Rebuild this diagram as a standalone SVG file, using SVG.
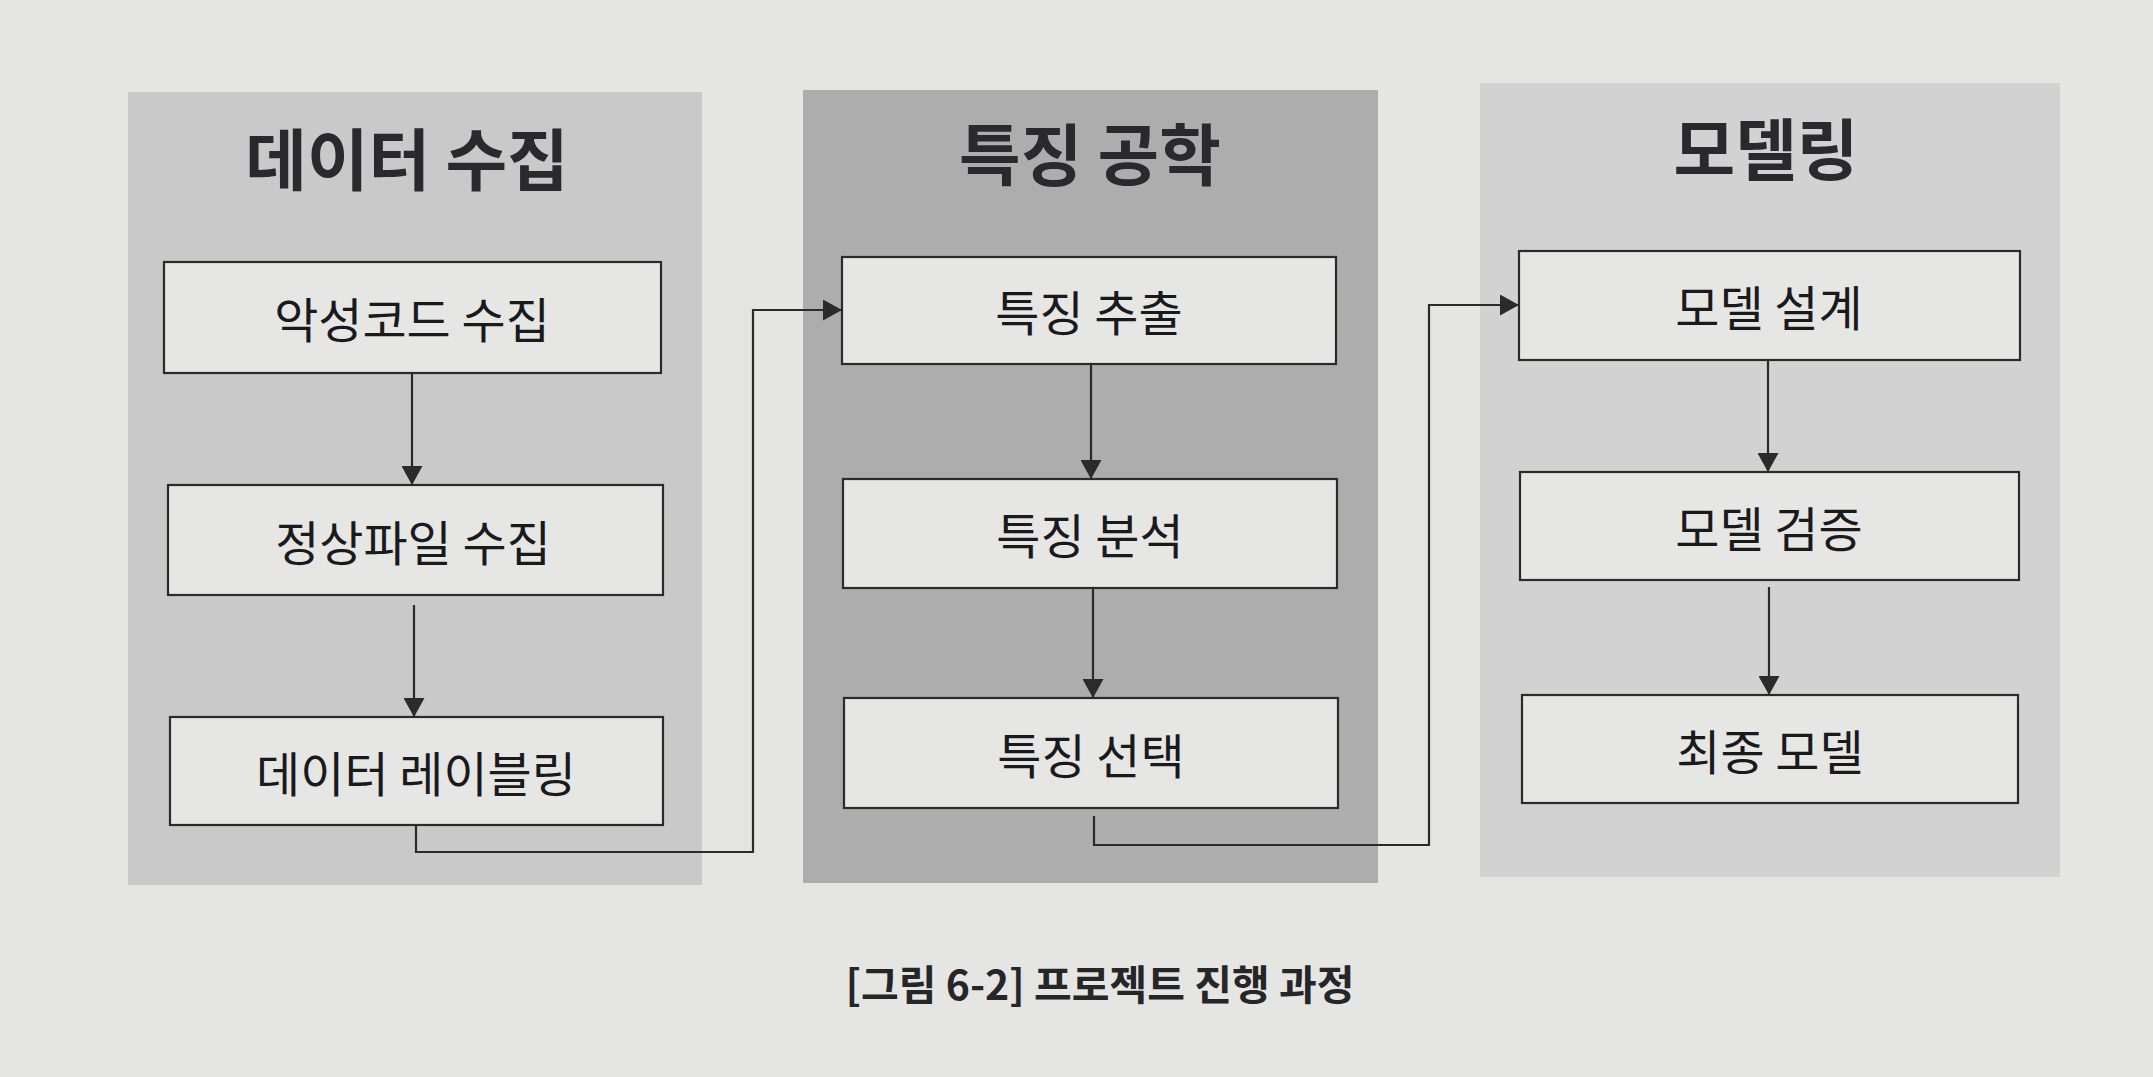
<svg xmlns="http://www.w3.org/2000/svg" width="2153" height="1077" viewBox="0 0 2153 1077">
<defs>
<style>
.page{fill:#e5e5e3}
.panel{stroke:none}
.box{fill:#e6e6e5;stroke:#2b2b2b;stroke-width:2.2}
.title{font-family:"Noto Sans CJK KR","Noto Sans",sans-serif;font-weight:700;font-size:67px;fill:#2a2a2c;text-anchor:middle;dominant-baseline:central}
.label{font-family:"Noto Sans CJK KR","Noto Sans",sans-serif;font-weight:400;font-size:48px;fill:#1a1a1c;text-anchor:middle;dominant-baseline:central}
.caption{font-family:"Noto Sans CJK KR","Noto Sans",sans-serif;font-weight:700;font-size:41px;fill:#262628;text-anchor:middle;dominant-baseline:central}
.conn{fill:none;stroke:#2b2b2b;stroke-width:2.2}
</style>
<marker id="arr" viewBox="0 0 19 21" refX="19" refY="10.5" markerWidth="19" markerHeight="21" markerUnits="userSpaceOnUse" orient="auto">
<path d="M0,0 L19,10.5 L0,21 Z" fill="#2b2b2b"/>
</marker>
</defs>
<rect class="page" x="0" y="0" width="2153" height="1077"/>

<g id="panel-data">
<rect class="panel" x="128" y="92" width="574" height="793" fill="#c9c9c9"/>
<text class="title" x="407" y="155">데이터 수집</text>
</g>
<g id="panel-feature">
<rect class="panel" x="803" y="90" width="575" height="793" fill="#adadad"/>
<text class="title" x="1090" y="150">특징 공학</text>
</g>
<g id="panel-model">
<rect class="panel" x="1480" y="83" width="580" height="794" fill="#d2d2d2"/>
<text class="title" x="1766" y="145">모델링</text>
</g>

<g id="connectors">
<line class="conn" x1="412" y1="373" x2="412" y2="485" marker-end="url(#arr)"/>
<line class="conn" x1="414" y1="605" x2="414" y2="717" marker-end="url(#arr)"/>
<path class="conn" d="M416 825 V852 H753 V310 H842" marker-end="url(#arr)"/>
<line class="conn" x1="1091" y1="364" x2="1091" y2="479" marker-end="url(#arr)"/>
<line class="conn" x1="1093" y1="588" x2="1093" y2="698" marker-end="url(#arr)"/>
<path class="conn" d="M1094 816 V845 H1429 V305 H1519" marker-end="url(#arr)"/>
<line class="conn" x1="1768" y1="360" x2="1768" y2="472" marker-end="url(#arr)"/>
<line class="conn" x1="1769" y1="587" x2="1769" y2="695" marker-end="url(#arr)"/>
</g>

<g id="node-malware">
<rect class="box" x="164" y="262" width="497" height="111"/>
<text class="label" x="412" y="317">악성코드 수집</text>
</g>
<g id="node-benign">
<rect class="box" x="168" y="485" width="495" height="110"/>
<text class="label" x="413" y="540">정상파일 수집</text>
</g>
<g id="node-labeling">
<rect class="box" x="170" y="717" width="493" height="108"/>
<text class="label" x="416" y="771">데이터 레이블링</text>
</g>
<g id="node-extract">
<rect class="box" x="842" y="257" width="494" height="107"/>
<text class="label" x="1089" y="310">특징 추출</text>
</g>
<g id="node-analyze">
<rect class="box" x="843" y="479" width="494" height="109"/>
<text class="label" x="1090" y="533">특징 분석</text>
</g>
<g id="node-select">
<rect class="box" x="844" y="698" width="494" height="110"/>
<text class="label" x="1091" y="753">특징 선택</text>
</g>
<g id="node-design">
<rect class="box" x="1519" y="251" width="501" height="109"/>
<text class="label" x="1769" y="305">모델 설계</text>
</g>
<g id="node-validate">
<rect class="box" x="1520" y="472" width="499" height="108"/>
<text class="label" x="1769" y="526">모델 검증</text>
</g>
<g id="node-final">
<rect class="box" x="1522" y="695" width="496" height="108"/>
<text class="label" x="1770" y="749">최종 모델</text>
</g>

<text class="caption" x="1100" y="982">[그림 6-2] 프로젝트 진행 과정</text>
</svg>
